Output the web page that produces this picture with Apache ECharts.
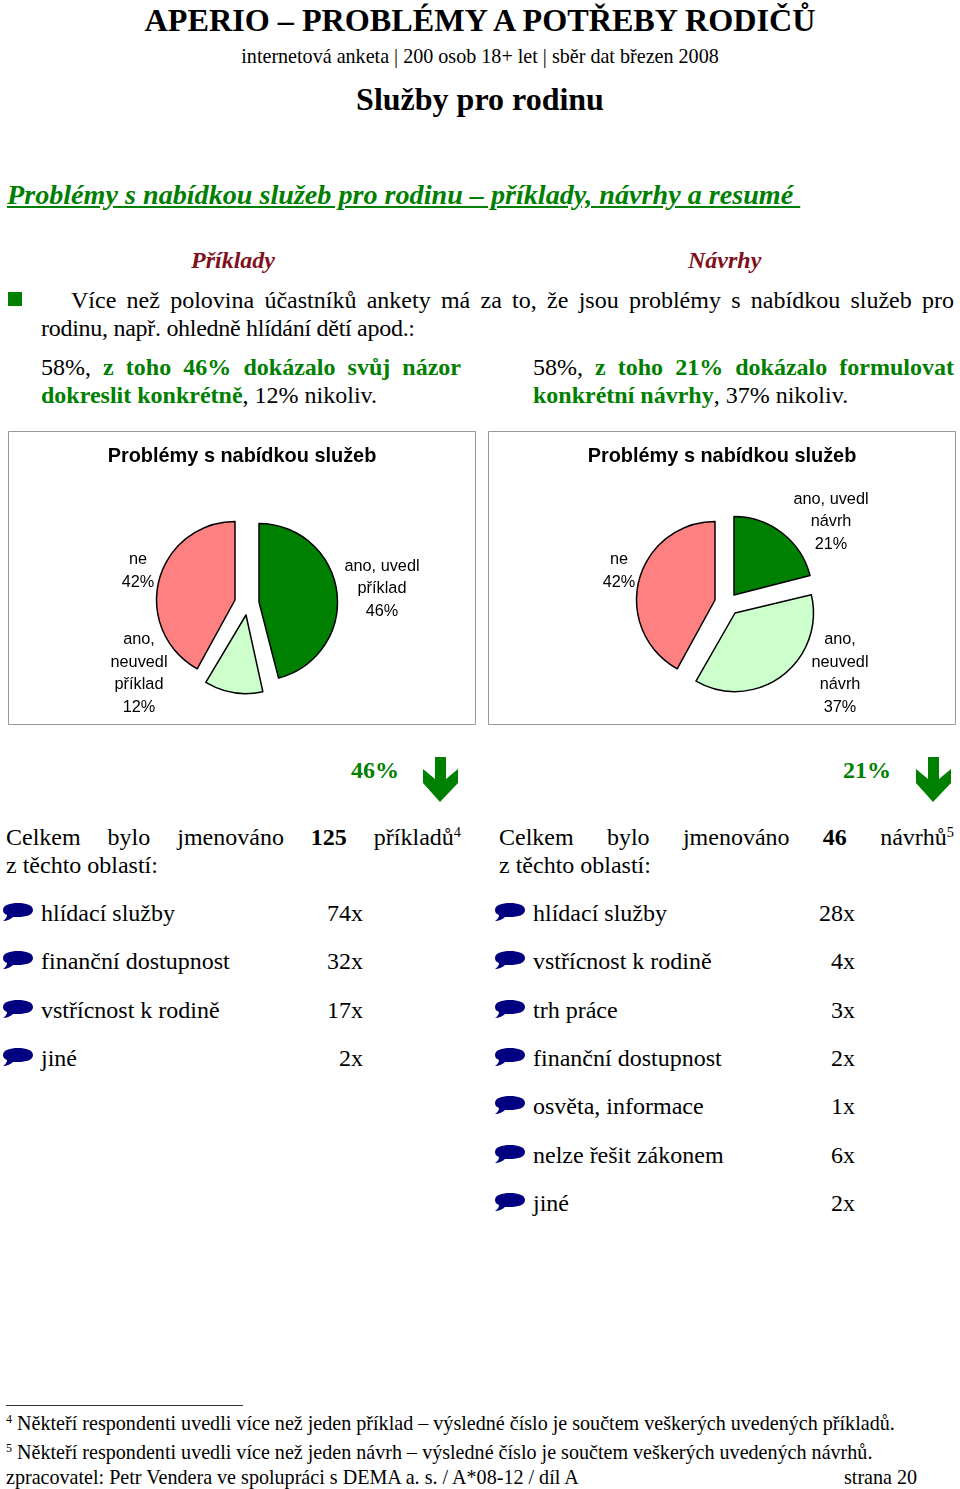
<!DOCTYPE html>
<html>
<head>
<meta charset="utf-8">
<script src="https://cdn.jsdelivr.net/npm/echarts@6/dist/echarts.min.js"></script>
<style>
html,body{margin:0;padding:0;background:#fff;}
#page{position:relative;width:960px;height:1489px;overflow:hidden;font-family:"Liberation Serif",serif;color:#000;}
.t{position:absolute;white-space:nowrap;}
.j{text-align:justify;text-align-last:justify;white-space:normal;}
.g{color:#008000;font-weight:bold;}
sup{font-size:60%;line-height:0;vertical-align:baseline;position:relative;top:-.55em;}
.chart{position:absolute;top:431px;width:468px;height:294px;}
svg{position:absolute;left:0;top:0;}
</style>
</head>
<body>
<div id="page">
	<div id="chartLeft" class="chart" style="left:8px"></div>
	<div id="chartRight" class="chart" style="left:488px"></div>
</div>
<script>
var chartTitle = 'Problémy s nabídkou služeb';
var leftNames = ['ano, uvedl\npříklad', 'ano,\nneuvedl\npříklad', 'ne'];
var leftValues = [46, 12, 42];
var rightNames = ['ano, uvedl\nnávrh', 'ano,\nneuvedl\nnávrh', 'ne'];
var rightValues = [21, 37, 42];
var leftAreas = ['hlídací služby', 'finanční dostupnost', 'vstřícnost k rodině', 'jiné'];
var leftCounts = ['74x', '32x', '17x', '2x'];
var rightAreas = ['hlídací služby', 'vstřícnost k rodině', 'trh práce', 'finanční dostupnost', 'osvěta, informace', 'nelze řešit zákonem', 'jiné'];
var rightCounts = ['28x', '4x', '3x', '2x', '1x', '6x', '2x'];

var sliceColors = ['#008000', '#CCFFCC', '#FF8080'];
var page = document.getElementById('page');

function text(html, x, y, size, css){
	var d = document.createElement('div');
	d.className = 't';
	d.innerHTML = html;
	d.style.cssText = 'left:'+x+'px;top:'+(y-20)+'px;line-height:40px;font-size:'+size+'px;'+(css||'');
	page.appendChild(d);
	return d;
}
function justified(html, x, y, width, size){
	var d = text(html, x, y, size, 'width:'+width+'px;height:40px;');
	d.className = 't j';
}
function centered(html, y, size, css){
	text(html, 0, y, size, 'width:960px;text-align:center;'+(css||''));
}
function arrow(x){
	var s = '<svg width="36" height="45" style="left:'+x+'px;top:757px"><polygon fill="#008000" points="13,0 13,22 1,12 1,26 18,45 36,26 36,12 24,22 24,0"/></svg>';
	page.insertAdjacentHTML('beforeend', s);
}
function bubble(x, y){
	var s = '<svg width="32" height="22" style="left:'+x+'px;top:'+y+'px"><path fill="#000080" d="M16 1C24 1 31 3 31 8C31 13 24 15 16 15C14 15 12 15 11 15C9 17 5 19 1 19C4 17 5 15 5 13C2 12 1 10 1 8C1 3 8 1 16 1Z"/></svg>';
	page.insertAdjacentHTML('beforeend', s);
}
function list(names, counts, textX, countRight, bubbleX){
	var rows = [913, 961, 1010, 1058, 1106, 1155, 1203];
	for(var i = 0;i < names.length;i ++){
		bubble(bubbleX, rows[i]-11);
		text(names[i], textX, rows[i], 24);
		text(counts[i], countRight-60, rows[i], 24, 'width:60px;text-align:right;');
	}
}

centered('<b>APERIO – PROBLÉMY A POTŘEBY RODIČŮ</b>', 20, 32.2);
centered('internetová anketa | 200 osob 18+ let | sběr dat březen 2008', 56, 20.1);
centered('<b>Služby pro rodinu</b>', 99, 32);
text('Problémy s nabídkou služeb pro rodinu – příklady, návrhy a resumé&nbsp;', 7, 195, 28.15, 'font-weight:bold;font-style:italic;color:#008000;text-decoration:underline;');
text('Příklady', 191, 260, 24, 'font-weight:bold;font-style:italic;color:#801020;');
text('Návrhy', 688, 260, 24, 'font-weight:bold;font-style:italic;color:#801020;');
page.insertAdjacentHTML('beforeend', '<div style="position:absolute;left:8px;top:292px;width:14px;height:14px;background:#008000"></div>');
justified('Více než polovina účastníků ankety má za to, že jsou problémy s nabídkou služeb pro', 71, 300, 883, 24);
text('rodinu, např. ohledně hlídání dětí apod.:', 41, 328, 24, 'letter-spacing:-0.28px;');
justified('58%, <span class="g">z toho 46% dokázalo svůj názor</span>', 41, 367, 420, 24);
text('<span class="g">dokreslit konkrétně</span>, 12% nikoliv.', 41, 395, 24);
justified('58%, <span class="g">z toho 21% dokázalo formulovat</span>', 533, 367, 421, 24);
text('<span class="g">konkrétní návrhy</span>, 37% nikoliv.', 533, 395, 24);

text('46%', 351, 770, 24, 'font-weight:bold;color:#008000;');
text('21%', 843, 770, 24, 'font-weight:bold;color:#008000;');
arrow(422);
arrow(915);
justified('Celkem bylo jmenováno <b>125</b> příkladů<sup>4</sup>', 6, 837, 455, 24);
text('z těchto oblastí:', 6, 865, 24);
justified('Celkem bylo jmenováno <b>46</b> návrhů<sup>5</sup>', 499, 837, 455, 24);
text('z těchto oblastí:', 499, 865, 24);
list(leftAreas, leftCounts, 41, 363, 2);
list(rightAreas, rightCounts, 533, 855, 494);

page.insertAdjacentHTML('beforeend', '<div style="position:absolute;left:6px;top:1405px;width:237px;height:1px;background:#333"></div>');
text('<sup>4</sup> Někteří respondenti uvedli více než jeden příklad – výsledné číslo je součtem veškerých uvedených příkladů.', 6, 1423, 20.1);
text('<sup>5</sup> Někteří respondenti uvedli více než jeden návrh – výsledné číslo je součtem veškerých uvedených návrhů.', 6, 1452, 20.1);
text('zpracovatel: Petr Vendera ve spolupráci s DEMA a. s. / A*08-12 / díl A', 6, 1477, 20.1);
text('strana 20', 844, 1477, 20.1);

// kazdy vysec ma vlastni stred, aby sel posunout jako v originale
function pieOption(names, values, centers, labels, startAngles){
	var series = [];
	for(var k = 0;k < values.length;k ++){
		var data = [];
		for(var i = 0;i < values.length;i ++){
			data.push({
				name:names[i],
				value:values[i],
				itemStyle:i == k ? {color:sliceColors[i], borderColor:'#000', borderWidth:1.5} : {color:'rgba(0,0,0,0)', borderWidth:0},
				label:{show:i == k}
			});
		}
		series.push({
			type:'pie',
			silent:true,
			animation:false,
			radius:[0, 78.5],
			center:centers[k],
			startAngle:startAngles[k],
			clockwise:true,
			data:data,
			label:{
				position:'outside',
				formatter:'{b}\n{c}%',
				fontFamily:'Liberation Sans',
				fontSize:16.3,
				lineHeight:22.5,
				color:'#000',
				align:'center'
			},
			labelLine:{show:false},
			labelLayout:(function(p){
				return function(){
					return {x:p[0], y:p[1], align:'center', verticalAlign:'middle'};
				};
			})(labels[k])
		});
	}
	return {
		title:{
			text:chartTitle,
			left:'center',
			top:11,
			textStyle:{fontFamily:'Liberation Sans', fontSize:19.9, fontWeight:'bold', color:'#000'}
		},
		graphic:[{
			type:'rect',
			silent:true,
			shape:{x:0.5, y:0.5, width:467, height:293},
			style:{fill:'none', stroke:'#999', lineWidth:1}
		}],
		series:series
	};
}

var chartLeft = echarts.init(document.getElementById('chartLeft'));
chartLeft.setOption(pieOption(leftNames, leftValues,
	[[251, 171], [238, 184], [227, 169]],
	[[374, 158], [131, 242.5], [130, 140]], [90, 88, 90]));
var chartRight = echarts.init(document.getElementById('chartRight'));
chartRight.setOption(pieOption(rightNames, rightValues,
	[[246, 164], [247, 182], [227, 169]],
	[[343, 91], [352, 242.5], [131, 140]], [90, 89, 90]));
</script>
</body>
</html>
